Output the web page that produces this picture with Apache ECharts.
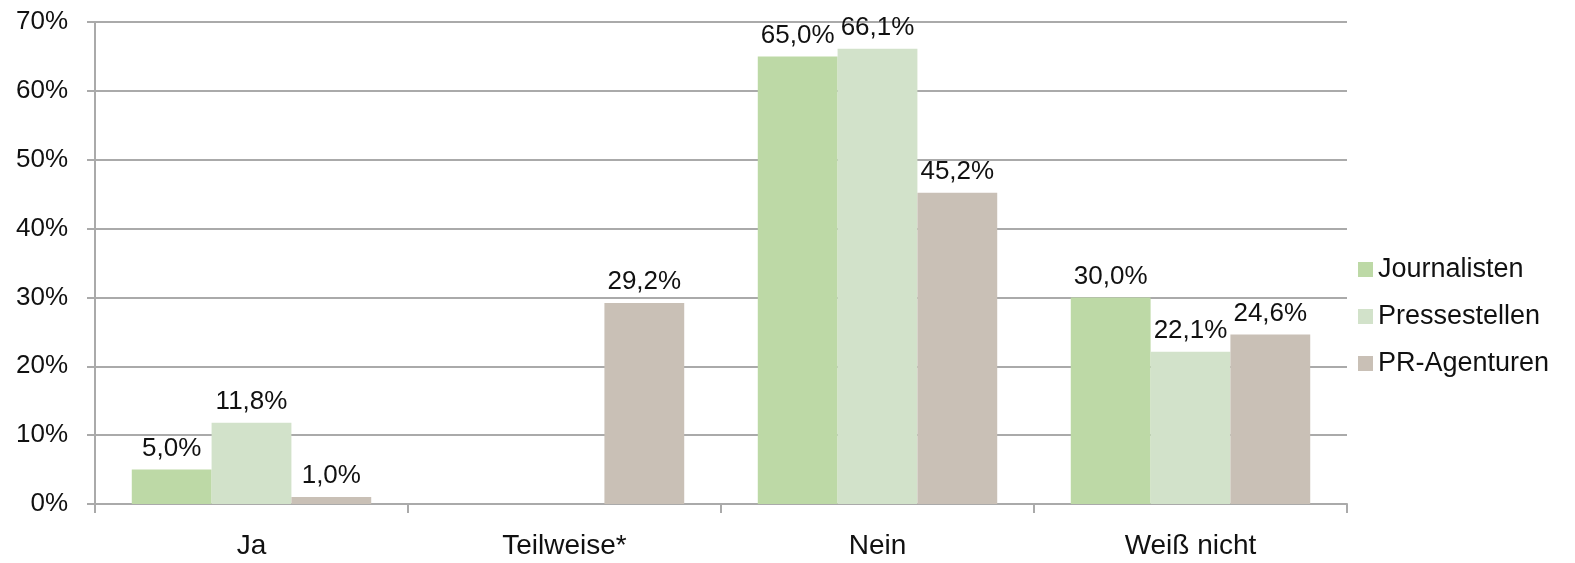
<!DOCTYPE html>
<html>
<head>
<meta charset="utf-8">
<script src="https://cdn.jsdelivr.net/npm/echarts@6/dist/echarts.min.js"></script>
<style>
  html, body { margin: 0; padding: 0; background: #fff; }
  #chart { width: 1575px; height: 563px; }
</style>
</head>
<body>
<div id="chart"></div>
<script>
const categories = ['Ja', 'Teilweise*', 'Nein', 'Weiß nicht'];
const journalisten = [5.0, null, 65.0, 30.0];
const pressestellen = [11.8, null, 66.1, 22.1];
const prAgenturen = [1.0, 29.2, 45.2, 24.6];
const seriesNames = ['Journalisten', 'Pressestellen', 'PR-Agenturen'];
const colors = ['#bdd9a6', '#d2e2ca', '#c9c0b6'];

const chart = echarts.init(document.getElementById('chart'));
const font = 'Liberation Sans, Arial, sans-serif';
const gridColor = '#aaaaaa';

function fmt(v) {
  return v.toFixed(1).replace('.', ',') + '%';
}

const seriesData = [journalisten, pressestellen, prAgenturen];

chart.setOption({
  animation: false,
  color: colors,
  grid: { left: 95, right: 228, top: 22, bottom: 59, containLabel: false, outerBoundsMode: 'none' },
  legend: {
    orient: 'vertical',
    left: 1353,
    top: 251,
    itemWidth: 15,
    itemHeight: 15,
    itemGap: 20,
    icon: 'rect',
    textStyle: { fontFamily: font, fontSize: 27, color: '#111' },
    data: seriesNames
  },
  xAxis: {
    type: 'category',
    data: categories,
    axisLine: { lineStyle: { color: gridColor, width: 2 } },
    axisTick: { show: true, length: 9, lineStyle: { color: gridColor, width: 2 } },
    axisLabel: { fontFamily: font, fontSize: 28, color: '#111', margin: 28, lineHeight: 28 }
  },
  yAxis: {
    type: 'value',
    min: 0,
    max: 70,
    interval: 10,
    axisLine: { show: true, lineStyle: { color: gridColor, width: 2 } },
    axisTick: { show: true, length: 8, lineStyle: { color: gridColor, width: 2 } },
    splitLine: { lineStyle: { color: gridColor, width: 2 } },
    axisLabel: { fontFamily: font, fontSize: 26, color: '#111', margin: 27, formatter: '{value}%' }
  },
  series: seriesNames.map((name, i) => ({
    name: name,
    type: 'bar',
    data: seriesData[i],
    barGap: '0%',
    barCategoryGap: '23.5%',
    itemStyle: { color: colors[i] },
    label: {
      show: true,
      position: 'top',
      distance: 8,
      fontFamily: font,
      fontSize: 26,
      color: '#111',
      formatter: p => (p.value == null ? '' : fmt(p.value))
    }
  }))
});
</script>
</body>
</html>
